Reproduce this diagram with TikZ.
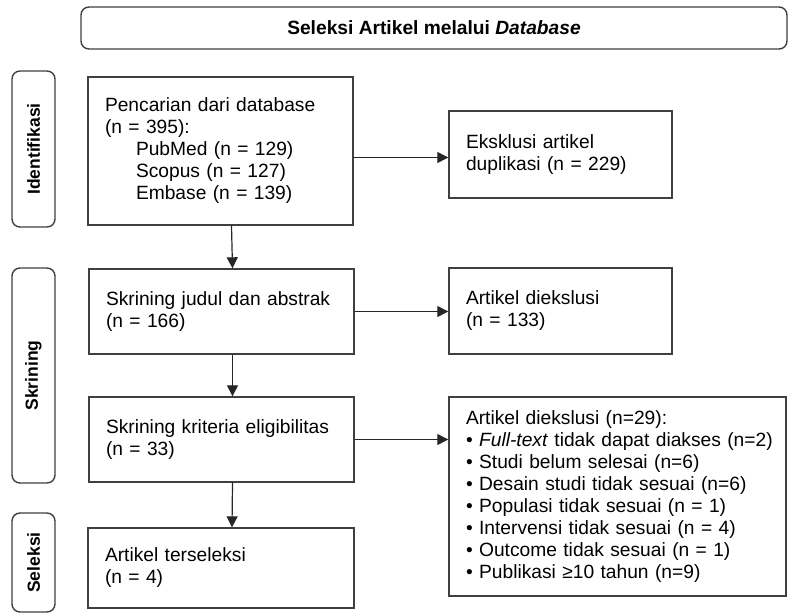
\documentclass[tikz,border=0pt]{standalone}
\usepackage{fontspec}
\setmainfont{Liberation Sans}
\usepackage{tikz}
\usetikzlibrary{arrows.meta}

\begin{document}
\begin{tikzpicture}[x=1pt, y=-1pt, font=\fontsize{19.2}{22}\selectfont,
  stagebox/.style={draw=boxLine, line width=1.4pt, rectangle, align=left, inner xsep=17pt, inner ysep=0pt},
  phaselabel/.style={draw=boxLine, line width=1.4pt, rounded corners=8pt, minimum height=43pt, rotate=90, inner sep=0pt, font=\fontsize{17.5}{20}\selectfont\bfseries},
  flow/.style={line width=1.2pt, draw=black!85, -{Triangle[length=11pt, width=11pt]}}]
\definecolor{boxLine}{HTML}{3F3F3F}
\useasboundingbox (0,0) rectangle (789,614);
\node[draw=boxLine, line width=1.4pt, rounded corners=8pt, minimum width=706pt, minimum height=42pt] (judulutama) at (434,28) {\bfseries Seleksi Artikel melalui \textit{Database}};
\node[phaselabel, minimum width=156pt] (identifikasi) at (33.5,149) {Identifikasi};
\node[phaselabel, minimum width=215pt] (skrining) at (33.5,375.5) {Skrining};
\node[phaselabel, minimum width=99pt] (seleksi) at (33.5,562.5) {Seleksi};
\node[stagebox, minimum width=265pt, minimum height=148pt, text width=231pt] (pencarian) at (220.5,151)
  {Pencarian dari database\\(n = 395):\\\hspace*{31pt}PubMed (n = 129)\\\hspace*{31pt}Scopus (n = 127)\\\hspace*{31pt}Embase (n = 139)};
\node[stagebox, minimum width=223pt, minimum height=87pt, text width=189pt] (eksklusi) at (560.5,154.5)
  {Eksklusi artikel\\duplikasi (n = 229)};
\node[stagebox, minimum width=265pt, minimum height=85pt, text width=231pt] (judul) at (221.5,311.5)
  {Skrining judul dan abstrak\\(n = 166)};
\node[stagebox, minimum width=223pt, minimum height=86pt, text width=189pt] (diekslusiA) at (560.5,311)
  {Artikel diekslusi\\(n = 133)};
\node[stagebox, minimum width=265pt, minimum height=85pt, text width=231pt] (kriteria) at (221.5,439.5)
  {Skrining kriteria eligibilitas\\(n = 33)};
\node[stagebox, minimum width=337pt, minimum height=199pt, text width=303pt] (diekslusiB) at (617.5,496.5)
  {Artikel diekslusi (n=29):\\
   \mbox{• \textit{Full-text} tidak dapat diakses (n=2)}\\
   • Studi belum selesai (n=6)\\
   • Desain studi tidak sesuai (n=6)\\
   • Populasi tidak sesuai (n = 1)\\
   • Intervensi tidak sesuai (n = 4)\\
   • Outcome tidak sesuai (n = 1)\\
   • Publikasi ≥10 tahun (n=9)};
\node[stagebox, minimum width=266pt, minimum height=80pt, text width=232pt] (terseleksi) at (221,568)
  {Artikel terseleksi\\(n = 4)};
\draw[flow] ([xshift=11pt]pencarian.south) -- ([xshift=11pt]judul.north);
\draw[flow] ([xshift=11pt]judul.south) -- ([xshift=11pt]kriteria.north);
\draw[flow] ([xshift=11pt]kriteria.south) -- ([xshift=11pt]terseleksi.north);
\draw[flow] ([yshift=-3pt]pencarian.east |- eksklusi.west) -- ([yshift=-3pt]eksklusi.west);
\draw[flow] (judul.east) -- (judul.east -| diekslusiA.west);
\draw[flow] (kriteria.east) -- (kriteria.east -| diekslusiB.west);
\end{tikzpicture}
\end{document}
